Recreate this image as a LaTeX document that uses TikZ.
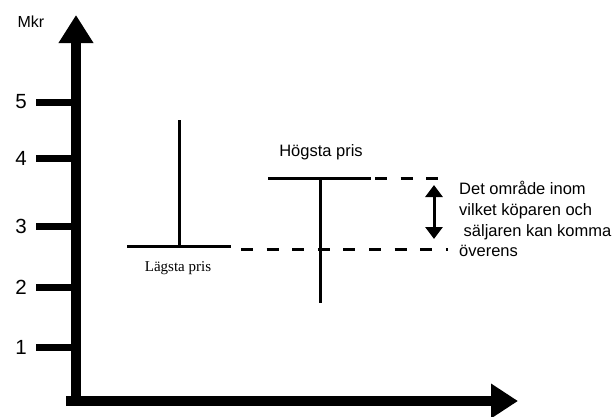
\documentclass[tikz,border=0pt]{standalone}
\usepackage{fontspec}
\setmainfont{Liberation Sans}
\newfontfamily\serifface{Liberation Serif}
\usetikzlibrary{arrows.meta}
\begin{document}
\begin{tikzpicture}[x=1pt,y=-1pt,
  axisline/.style={line width=9.5pt},
  tickmark/.style={line width=7pt},
  pricebar/.style={line width=3pt},
  guide/.style={line width=3pt, dash pattern=on 12pt off 13.6pt},
  ticktext/.style={font=\fontsize{20.5}{24}\selectfont, inner sep=0pt},
  sanstext/.style={font=\fontsize{16.5}{20}\selectfont, inner sep=0pt},
  seriftext/.style={font=\serifface\fontsize{15}{18}\selectfont, inner sep=0pt},
]
\useasboundingbox (0,0) rectangle (614,416);

% axes
\coordinate (origin) at (76,405);
\coordinate (ytip) at (76,15);
\coordinate (xstart) at (66,401);
\coordinate (xtip) at (518,401);
\draw[axisline, -{Triangle[length=28pt,width=33pt]}] (origin) -- (ytip);
\draw[axisline, -{Triangle[length=27pt,width=33pt]}] (xstart) -- (xtip);
\node[sanstext, font=\fontsize{16}{19}\selectfont] (unit) at (31,22) {Mkr};

% ticks on the price axis
\foreach \v/\y in {1/347, 2/287, 3/226, 4/158, 5/102}{
  \coordinate (t\v a) at (36,\y);
  \coordinate (t\v b) at (72,\y);
  \draw[tickmark] (t\v a) -- (t\v b);
  \node[ticktext] (n\v) at (21,\y) {\v};
}

% lowest price (seller)
\coordinate (lowL) at (127,246);
\coordinate (lowR) at (231,246);
\coordinate (lowM) at (179,246);
\coordinate (lowTop) at (179,120);
\draw[pricebar] (lowL) -- (lowR);
\draw[pricebar] (lowM) -- (lowTop);
\node[seriftext] (lowtext) at (178,268) {Lägsta pris};

% highest price (buyer)
\coordinate (highL) at (268,178);
\coordinate (highR) at (371,178);
\coordinate (highM) at (320,178);
\coordinate (highBot) at (320,303);
\draw[pricebar] (highL) -- (highR);
\draw[pricebar] (highM) -- (highBot);
\node[sanstext] (hightext) at (321,152) {Högsta pris};

% guide lines
\coordinate (g1a) at (375,178.5);
\coordinate (g1b) at (440,178.5);
\coordinate (g2a) at (241,249);
\coordinate (g2b) at (447.5,249);
\draw[guide] (g1a) -- (g1b);
\draw[guide] (g2a) -- (g2b);

% bargaining range
\coordinate (rtop) at (434,185);
\coordinate (rbot) at (434,239);
\draw[line width=3pt, {Triangle[length=12pt,width=17pt]}-{Triangle[length=12pt,width=17pt]}] (rtop) -- (rbot);

\node[sanstext, anchor=base west] (r1) at (459,194) {Det område inom};
\node[sanstext, anchor=base west] (r2) at (459,215.5) {vilket köparen och};
\node[sanstext, anchor=base west] (r3) at (463.5,236.5) {säljaren kan komma};
\node[sanstext, anchor=base west] (r4) at (459,256) {överens};
\end{tikzpicture}
\end{document}
